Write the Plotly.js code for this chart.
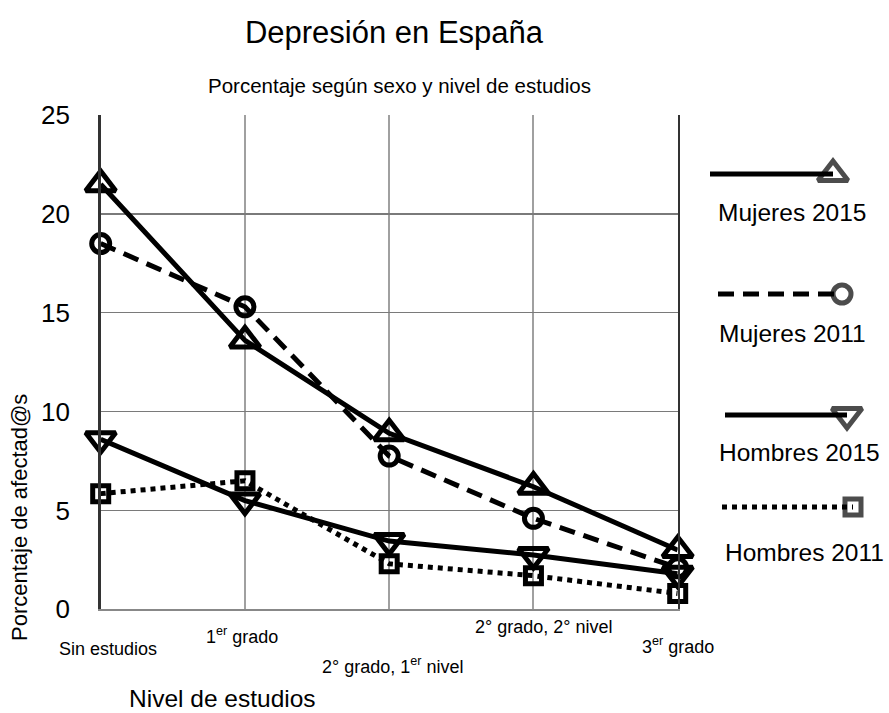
<!DOCTYPE html>
<html>
<head>
<meta charset="utf-8">
<script src="https://cdn.plot.ly/plotly-3.0.1.min.js"></script>
<style>html,body{margin:0;padding:0;background:#fff;}#chart{width:889px;height:713px;}</style>
</head>
<body>
<div id="chart"></div>
<script>
// ---- data ----
const categories = ['Sin estudios', '1er grado', '2° grado, 1er nivel', '2° grado, 2° nivel', '3er grado'];
const tickLabels = ['Sin estudios', '1<sup>er</sup> grado', '2° grado, 1<sup>er</sup> nivel', '2° grado, 2° nivel', '3<sup>er</sup> grado'];
const mujeres2015 = [21.5, 13.6, 8.9, 6.2, 3.0];
const mujeres2011 = [18.5, 15.3, 7.75, 4.6, 2.1];
const hombres2015 = [8.6, 5.5, 3.45, 2.75, 1.8];
const hombres2011 = [5.85, 6.5, 2.3, 1.7, 0.8];
const seriesNames = ['Mujeres 2015', 'Mujeres 2011', 'Hombres 2015', 'Hombres 2011'];
const yTicks = [0, 5, 10, 15, 20, 25];

// ---- layout helpers (pixel geometry) ----
const W = 889, H = 713;
const FONT = '"Liberation Sans", Arial, sans-serif';
const px = v => v / W;
const py = v => 1 - v / H;

const LW = 5;
const MLW = 5;
const styles = [
  {dash: 'solid', symbol: 'triangle-up-open', size: 26},
  {dash: '16px,9px', symbol: 'circle-open', size: 18},
  {dash: 'solid', symbol: 'triangle-down-open', size: 26},
  {dash: '5px,5px', symbol: 'square-open', size: 16}
];
const seriesData = [mujeres2015, mujeres2011, hombres2015, hombres2011];

const traces = seriesData.map((vals, i) => ({
  type: 'scatter', mode: 'lines+markers',
  x: categories, y: vals, name: seriesNames[i],
  xaxis: 'x', yaxis: 'y', cliponaxis: false,
  line: {color: '#000', width: LW, dash: styles[i].dash},
  marker: {symbol: styles[i].symbol, size: styles[i].size, color: '#000',
           line: {color: '#000', width: MLW}},
  showlegend: false, hoverinfo: 'x+y+name'
}));

// legend samples drawn on a pixel-space helper axis
const legendGeom = [
  {x0: 710, x1: 833, y: 174, lx: 792, ly: 212},
  {x0: 718, x1: 842, y: 294, lx: 792, ly: 333},
  {x0: 725, x1: 847, y: 415, lx: 799, ly: 452},
  {x0: 722, x1: 853, y: 507, lx: 804, ly: 552}
];
legendGeom.forEach((g, i) => {
  traces.push({
    type: 'scatter', mode: 'lines+markers', xaxis: 'x2', yaxis: 'y2',
    x: [g.x0, g.x1], y: [g.y, g.y], cliponaxis: false,
    line: {color: '#000', width: LW, dash: styles[i].dash},
    marker: {symbol: styles[i].symbol, size: [0, styles[i].size], color: '#000',
             line: {color: '#000', width: [0, MLW]}},
    showlegend: false, hoverinfo: 'skip'
  });
});

const annotations = [];
// subtitle
annotations.push({text: 'Porcentaje según sexo y nivel de estudios', xref: 'paper', yref: 'paper',
  x: px(399), y: py(85), xanchor: 'center', yanchor: 'middle', showarrow: false,
  font: {family: FONT, size: 20.5, color: '#000'}});
// x tick labels (staggered)
const tickY = [649, 635, 665, 627, 645];
const tickXoff = [7, -3, 4, 10, 0];
tickLabels.forEach((t, i) => {
  annotations.push({text: t, xref: 'x', yref: 'paper', x: i, xshift: tickXoff[i], y: py(tickY[i]),
    xanchor: 'center', yanchor: 'middle', showarrow: false,
    font: {family: FONT, size: 18, color: '#000'}});
});
// axis titles
annotations.push({text: 'Nivel de estudios', xref: 'paper', yref: 'paper', x: px(223), y: py(698),
  xanchor: 'center', yanchor: 'middle', showarrow: false, font: {family: FONT, size: 24.5, color: '#000'}});
annotations.push({text: 'Porcentaje de afectad@s', xref: 'paper', yref: 'paper', x: px(19), y: py(518),
  xanchor: 'center', yanchor: 'middle', textangle: -90, showarrow: false,
  font: {family: FONT, size: 22, color: '#000'}});
// legend labels
legendGeom.forEach((g, i) => {
  annotations.push({text: seriesNames[i], xref: 'paper', yref: 'paper', x: px(g.lx), y: py(g.ly),
    xanchor: 'center', yanchor: 'middle', showarrow: false, font: {family: FONT, size: 24.5, color: '#000'}});
});

const layout = {
  width: W, height: H,
  margin: {l: 0, r: 0, t: 0, b: 0, autoexpand: false},
  paper_bgcolor: '#fff', plot_bgcolor: 'rgba(0,0,0,0)',
  font: {family: FONT, color: '#000'},
  title: {text: 'Depresión en España', x: px(394), xanchor: 'center', xref: 'paper',
          y: py(32), yanchor: 'middle', yref: 'container',
          font: {family: FONT, size: 31, color: '#000'}},
  xaxis: {domain: [px(100.7), px(677.7)], type: 'category', range: [0, 4],
          showticklabels: false, ticks: '', showgrid: true, gridcolor: '#a0a0a0', gridwidth: 2,
          showline: true, linecolor: '#888', linewidth: 2, zeroline: false, fixedrange: true, automargin: false},
  yaxis: {domain: [py(609.3), py(115)], range: [0, 25], tickvals: yTicks, ticktext: yTicks.map(String),
          ticks: '', ticklabelstandoff: 23, tickfont: {family: FONT, size: 26, color: '#000'},
          showgrid: true, gridcolor: '#7a7a7a', gridwidth: 1.5, zeroline: false,
          showline: true, linecolor: '#333', linewidth: 2.5, mirror: true, fixedrange: true, automargin: false},
  xaxis2: {domain: [0, 1], range: [0, W], anchor: 'y2', visible: false, fixedrange: true},
  yaxis2: {domain: [0, 1], range: [H, 0], anchor: 'x2', visible: false, fixedrange: true},
  annotations: annotations,
  showlegend: false
};

Plotly.newPlot('chart', traces, layout, {displayModeBar: false, staticPlot: true});
</script>
</body>
</html>
